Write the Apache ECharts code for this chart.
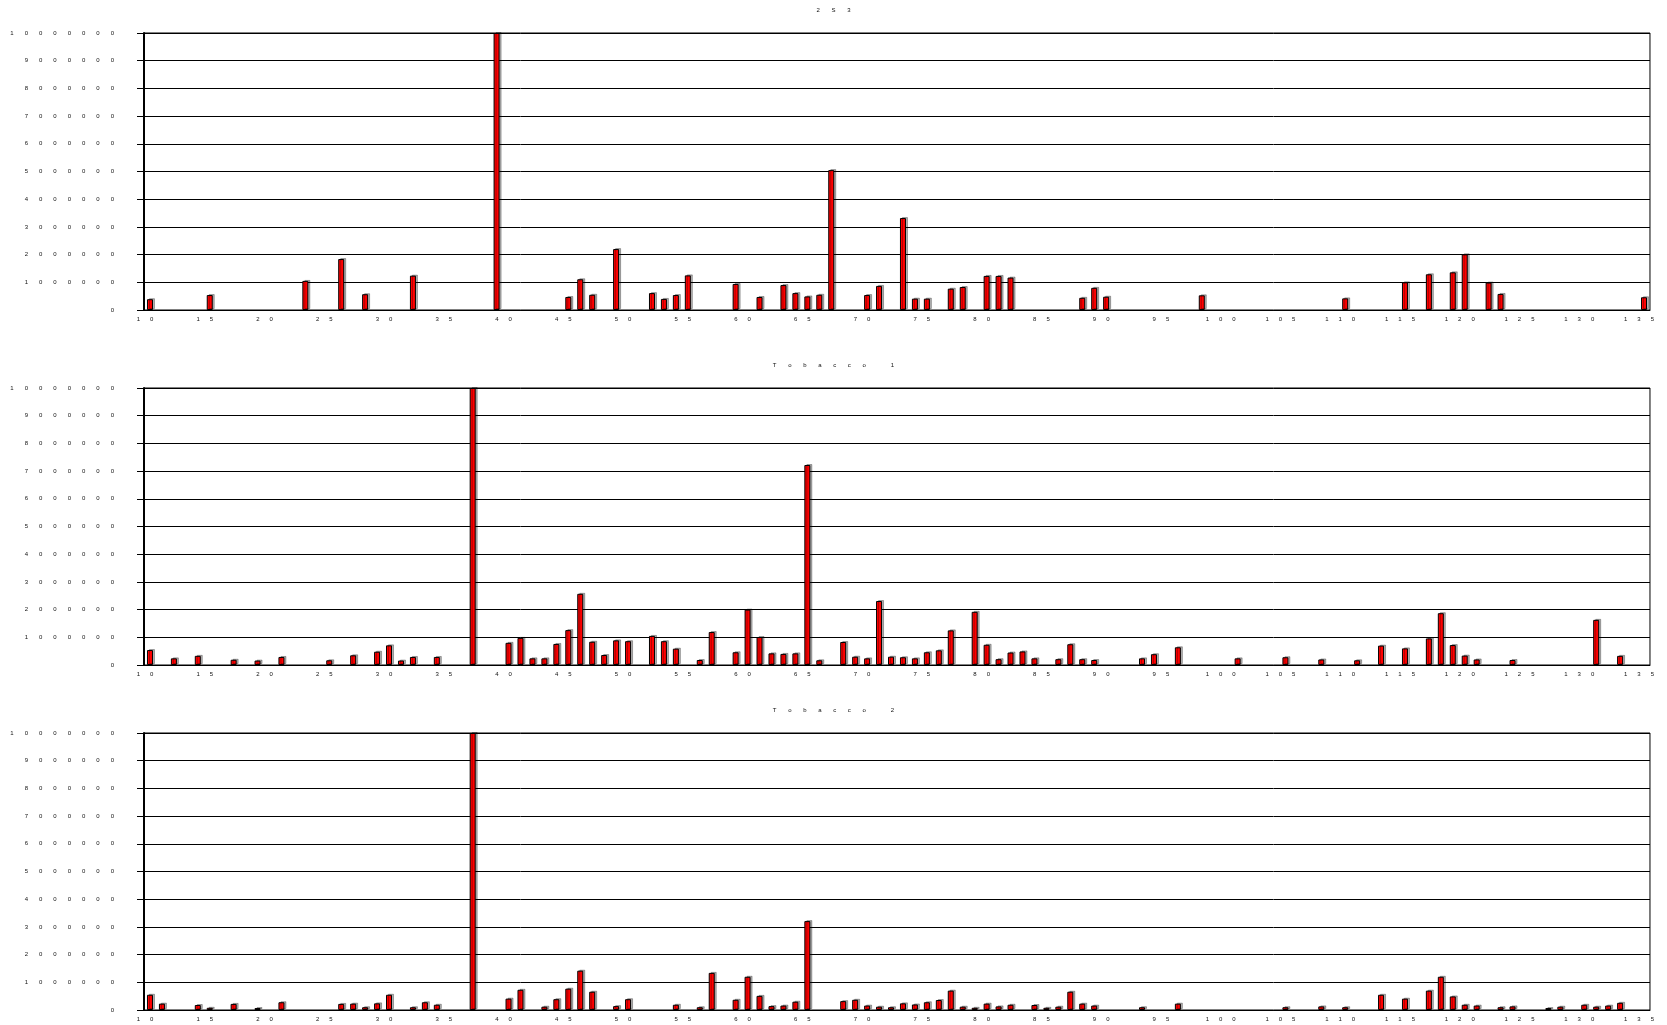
<!DOCTYPE html>
<html>
<head>
<meta charset="utf-8">
<title>2 S 3 / Tobacco</title>
<script src="https://cdn.jsdelivr.net/npm/echarts@6/dist/echarts.min.js"></script>
<style>
  html, body { margin: 0; padding: 0; background: #fff; }
  #chart { width: 1667px; height: 1025px; }
</style>
</head>
<body>
<div id="chart"></div>
<script>
// x categories (10 .. 135)
var categories = [
  10, 11, 12, 13, 14, 15, 16, 17, 18, 19, 20, 21, 22, 23, 24, 25, 26, 27, 28, 29,
  30, 31, 32, 33, 34, 35, 36, 37, 38, 39, 40, 41, 42, 43, 44, 45, 46, 47, 48, 49,
  50, 51, 52, 53, 54, 55, 56, 57, 58, 59, 60, 61, 62, 63, 64, 65, 66, 67, 68, 69,
  70, 71, 72, 73, 74, 75, 76, 77, 78, 79, 80, 81, 82, 83, 84, 85, 86, 87, 88, 89,
  90, 91, 92, 93, 94, 95, 96, 97, 98, 99, 100, 101, 102, 103, 104, 105, 106, 107, 108, 109,
  110, 111, 112, 113, 114, 115, 116, 117, 118, 119, 120, 121, 122, 123, 124, 125, 126, 127, 128, 129,
  130, 131, 132, 133, 134, 135
];

var panelTitles = ["2S3", "Tobacco 1", "Tobacco 2"];

// [category, value] - only the non-empty bars
var s3Bars = [
  [10, 390000], [15, 540000], [23, 1050000], [26, 1840000], [28, 570000], [32, 1240000],
  [39, 10000000], [45, 470000], [46, 1110000], [47, 550000], [49, 2200000], [52, 610000],
  [53, 400000], [54, 540000], [55, 1250000], [59, 940000], [61, 470000], [63, 900000],
  [64, 610000], [65, 490000], [66, 550000], [67, 5050000], [70, 540000], [71, 870000],
  [73, 3320000], [74, 410000], [75, 410000], [77, 770000], [78, 830000], [80, 1230000],
  [81, 1230000], [82, 1170000], [88, 440000], [89, 800000], [90, 480000], [98, 530000],
  [110, 420000], [115, 1000000], [117, 1290000], [119, 1360000], [120, 2010000],
  [122, 990000], [123, 580000], [135, 460000]
];

var tobacco1Bars = [
  [10, 540000], [12, 240000], [14, 330000], [17, 190000], [19, 160000], [21, 290000],
  [25, 170000], [27, 350000], [29, 480000], [30, 710000], [31, 160000], [32, 290000],
  [34, 290000], [37, 10000000], [40, 800000], [41, 980000], [42, 240000], [43, 240000],
  [44, 760000], [45, 1260000], [46, 2570000], [47, 840000], [48, 360000], [49, 890000],
  [50, 860000], [52, 1050000], [53, 860000], [54, 590000], [56, 180000], [57, 1190000],
  [59, 460000], [60, 2000000], [61, 1010000], [62, 420000], [63, 400000], [64, 420000],
  [65, 7220000], [66, 170000], [68, 830000], [69, 300000], [70, 240000], [71, 2310000],
  [72, 300000], [73, 280000], [74, 240000], [75, 460000], [76, 530000], [77, 1250000],
  [79, 1920000], [80, 730000], [81, 210000], [82, 450000], [83, 490000], [84, 240000],
  [86, 210000], [87, 750000], [88, 210000], [89, 180000], [93, 240000], [94, 390000],
  [96, 640000], [101, 240000], [105, 280000], [108, 200000], [111, 170000], [113, 700000],
  [115, 600000], [117, 960000], [118, 1870000], [119, 720000], [120, 340000], [121, 200000],
  [124, 180000], [131, 1630000], [133, 330000]
];

var tobacco2Bars = [
  [10, 550000], [11, 230000], [14, 180000], [15, 80000], [17, 220000], [19, 70000],
  [21, 280000], [26, 220000], [27, 230000], [28, 100000], [29, 240000], [30, 550000],
  [32, 100000], [33, 280000], [34, 190000], [37, 10000000], [40, 410000], [41, 730000],
  [43, 120000], [44, 390000], [45, 770000], [46, 1420000], [47, 660000], [49, 140000],
  [50, 390000], [54, 190000], [56, 100000], [57, 1340000], [59, 370000], [60, 1200000],
  [61, 510000], [62, 140000], [63, 160000], [64, 300000], [65, 3210000], [68, 320000],
  [69, 370000], [70, 160000], [71, 120000], [72, 100000], [73, 240000], [74, 200000],
  [75, 280000], [76, 360000], [77, 700000], [78, 120000], [79, 80000], [80, 230000],
  [81, 130000], [82, 190000], [84, 180000], [85, 80000], [86, 120000], [87, 660000],
  [88, 230000], [89, 160000], [93, 100000], [96, 230000], [105, 100000], [108, 130000],
  [110, 100000], [113, 550000], [115, 410000], [117, 700000], [118, 1200000], [119, 490000],
  [120, 190000], [121, 160000], [123, 100000], [124, 130000], [127, 70000], [128, 120000],
  [130, 190000], [131, 120000], [132, 160000], [133, 260000]
];

var yMax = 10000000;
var yStep = 1000000;

// excel-style letter spaced text
function spaced(s, gap) {
  return String(s).split("").join(gap);
}

// put the sparse bars onto the full category list
function toSeriesData(bars) {
  var out = categories.map(function() { return "-"; });
  bars.forEach(function(b) {
    var idx = categories.indexOf(b[0]);
    if (idx >= 0) out[idx] = b[1];
  });
  return out;
}

var font = "Liberation Sans, Arial, sans-serif";
var textColor = "#111";
var panelTops = [33, 388, 733];
var titleTops = [7, 362, 707];
var allBars = [s3Bars, tobacco1Bars, tobacco2Bars];

var grids = [], xAxes = [], yAxes = [], titles = [], series = [];
for (var i = 0; i < 3; i++) {
  grids.push({
    left: 144,
    right: 14,
    top: panelTops[i],
    height: 277,
    show: true,
    borderColor: "#000",
    borderWidth: 1
  });
  titles.push({
    text: spaced(panelTitles[i], "       "),
    left: "center",
    top: titleTops[i],
    padding: 0,
    textStyle: { fontSize: 6, fontWeight: "normal", color: textColor, fontFamily: font }
  });
  xAxes.push({
    type: "category",
    gridIndex: i,
    data: categories,
    boundaryGap: true,
    axisLine: { lineStyle: { color: "#000", width: 1 } },
    axisTick: { interval: 4, length: 3, lineStyle: { color: "#000" } },
    axisLabel: {
      interval: 4,
      fontSize: 6,
      margin: 6,
      color: textColor,
      fontFamily: font,
      formatter: function(v) {
        return spaced(v, "      ") + "      ";
      }
    },
    splitLine: { show: false }
  });
  yAxes.push({
    type: "value",
    gridIndex: i,
    min: 0,
    max: yMax,
    interval: yStep,
    axisLine: { show: true, lineStyle: { color: "#000", width: 2 } },
    axisTick: { show: true, length: 7, lineStyle: { color: "#000" } },
    axisLabel: {
      fontSize: 6,
      margin: 30,
      color: textColor,
      fontFamily: font,
      formatter: function(v) {
        return spaced(v, "\u2003   ");
      }
    },
    splitLine: { show: true, lineStyle: { color: "#000", width: 1 } }
  });
  series.push({
    type: "bar",
    xAxisIndex: i,
    yAxisIndex: i,
    barWidth: 6,
    data: toSeriesData(allBars[i]),
    itemStyle: {
      color: "#ff0000",
      borderColor: "#000",
      borderWidth: 1,
      shadowColor: "rgba(0,0,0,0.3)",
      shadowOffsetX: 2,
      shadowOffsetY: -1,
      shadowBlur: 0
    }
  });
}

var myChart = echarts.init(document.getElementById("chart"));
myChart.setOption({
  animation: false,
  backgroundColor: "#fff",
  title: titles,
  grid: grids,
  xAxis: xAxes,
  yAxis: yAxes,
  series: series
});
</script>
</body>
</html>
